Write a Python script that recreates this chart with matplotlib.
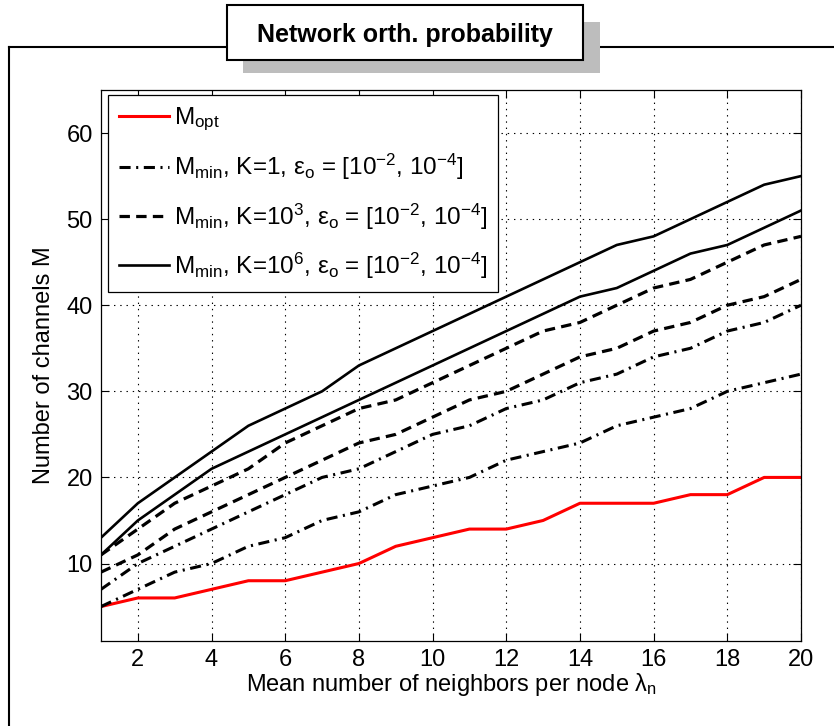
import matplotlib
matplotlib.use('Agg')
import matplotlib.pyplot as plt
from matplotlib.patches import Rectangle
from matplotlib.lines import Line2D

plt.rcParams['font.family'] = ['Liberation Sans', 'DejaVu Sans']
plt.rcParams['mathtext.default'] = 'regular'
plt.rcParams['lines.scale_dashes'] = False

# mean number of neighbours per node
lam = list(range(1, 21))

# optimal number of channels
m_opt = [5, 6, 6, 7, 8, 8, 9, 10, 12, 13, 14, 14, 15, 17, 17, 17, 18, 18, 20, 20]

# minimum number of channels, eps_o = 1e-2 (lower) and 1e-4 (upper)
k1_low = [5, 7, 9, 10, 12, 13, 15, 16, 18, 19, 20, 22, 23, 24, 26, 27, 28, 30, 31, 32]
k1_high = [7, 10, 12, 14, 16, 18, 20, 21, 23, 25, 26, 28, 29, 31, 32, 34, 35, 37, 38, 40]
k3_low = [9, 11, 14, 16, 18, 20, 22, 24, 25, 27, 29, 30, 32, 34, 35, 37, 38, 40, 41, 43]
k3_high = [11, 14, 17, 19, 21, 24, 26, 28, 29, 31, 33, 35, 37, 38, 40, 42, 43, 45, 47, 48]
k6_low = [11, 15, 18, 21, 23, 25, 27, 29, 31, 33, 35, 37, 39, 41, 42, 44, 46, 47, 49, 51]
k6_high = [13, 17, 20, 23, 26, 28, 30, 33, 35, 37, 39, 41, 43, 45, 47, 48, 50, 52, 54, 55]

labels = [
    'M$_{opt}$',
    'M$_{min}$, K=1, ε$_o$ = [10$^{-2}$, 10$^{-4}$]',
    'M$_{min}$, K=10$^3$, ε$_o$ = [10$^{-2}$, 10$^{-4}$]',
    'M$_{min}$, K=10$^6$, ε$_o$ = [10$^{-2}$, 10$^{-4}$]',
]
title = 'Network orth. probability'

W, H = 834, 726
fig = plt.figure(figsize=(W / 100, H / 100), dpi=100)

# outer frame and title box with its shadow
fig.add_artist(Line2D([9 / W, 1.0], [1 - 47 / H] * 2, transform=fig.transFigure,
                      color='black', lw=1.5, zorder=1))
fig.add_artist(Line2D([9 / W] * 2, [0, 1 - 47 / H], transform=fig.transFigure,
                      color='black', lw=1.5, zorder=1))
fig.add_artist(Rectangle((243 / W, 1 - 73 / H), 357 / W, 51 / H, transform=fig.transFigure,
                         facecolor='#bdbdbd', edgecolor='none', zorder=2))
fig.add_artist(Rectangle((227 / W, 1 - 60 / H), 356 / W, 55 / H, transform=fig.transFigure,
                         facecolor='white', edgecolor='black', lw=1.5, zorder=4))
fig.text(405 / W, 1 - 42 / H, title, ha='center', va='baseline',
         fontsize=18, fontweight='bold', color='black', zorder=5)

ax = fig.add_axes([101 / W, 1 - 641 / H, 700 / W, 551 / H])

dashdot = (0, (8, 4, 1.5, 4))
dashed = (0, (7.5, 4.5))

ax.plot(lam, m_opt, color='#ff0000', lw=2.2, label=labels[0])
ax.plot(lam, k1_low, color='black', lw=2.2, linestyle=dashdot, label=labels[1])
ax.plot(lam, k1_high, color='black', lw=2.2, linestyle=dashdot)
ax.plot(lam, k3_low, color='black', lw=2.3, linestyle=dashed, label=labels[2])
ax.plot(lam, k3_high, color='black', lw=2.3, linestyle=dashed)
ax.plot(lam, k6_low, color='black', lw=1.9, label=labels[3])
ax.plot(lam, k6_high, color='black', lw=1.9)

ax.set_xlim(1, 20)
ax.set_ylim(1, 65)
ax.set_xticks(range(2, 21, 2))
ax.set_yticks(range(10, 61, 10))
ax.tick_params(direction='in', top=True, right=True, length=6, width=0.8,
               labelsize=17, pad=6)
ax.grid(True, color='black', linestyle=(0, (1, 3.5)), linewidth=0.8)
for sp in ax.spines.values():
    sp.set_linewidth(0.9)

ax.set_xlabel('Mean number of neighbors per node λ$_n$', fontsize=17, labelpad=0)
ax.set_ylabel('Number of channels M', fontsize=17, labelpad=8)

leg = ax.legend(loc='upper left', bbox_to_anchor=(7 / 700, 1 - 5 / 551), borderaxespad=0,
                fontsize=17.5, handlelength=2.05, handletextpad=0.2, labelspacing=0.78,
                fancybox=False, framealpha=1, edgecolor='black', borderpad=0.45)
leg.get_frame().set_linewidth(0.9)

fig.savefig('out.png', dpi=100)
